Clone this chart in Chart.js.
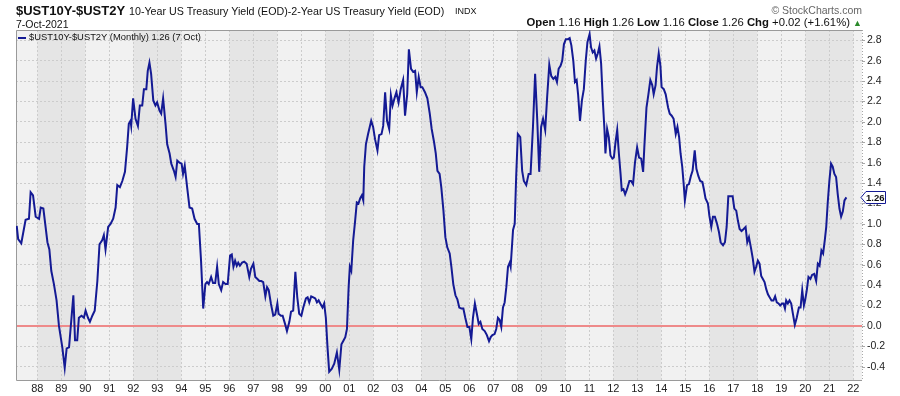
<!DOCTYPE html>
<html lang="en">
<head>
    <meta charset="UTF-8">
    <title>$UST10Y-$UST2Y</title>
    <script src="https://cdn.jsdelivr.net/npm/chart.js"></script>
    <style>
        body {
            margin: 0;
            background: #fff;
            font-family: "Liberation Sans", Arial, sans-serif;
            color: #111;
        }
        #wrap {
            position: relative;
            width: 900px;
            height: 396px;
        }
        .txt {
            position: absolute;
            white-space: nowrap;
            z-index: 2;
        }
        #sym { left: 16px; top: 4px; font-size: 13px; line-height: 13px; font-weight: bold; }
        #name { left: 129px; top: 6px; font-size: 10.7px; line-height: 10.7px; }
        #exch { left: 455px; top: 7px; font-size: 9px; line-height: 9px; }
        #date { left: 16px; top: 19px; font-size: 10.5px; line-height: 10.5px; }
        #copy { right: 38px; top: 5px; font-size: 10.5px; line-height: 10.5px; color: #666; }
        #ohlc { right: 38px; top: 17px; font-size: 11.3px; line-height: 11.3px; }
        #ohlc b { font-weight: bold; }
        #ohlc .up { color: #2a8a2a; font-size: 9px; }
        #legend { left: 18px; top: 32px; font-size: 9.4px; line-height: 10px; }
        #legend i {
            display: inline-block;
            width: 8px;
            height: 2px;
            background: #141a94;
            vertical-align: middle;
            margin-right: 3px;
        }
        canvas { position: absolute; left: 0; top: 0; }
    </style>
</head>
<body>
<div id="wrap">
    <div class="txt" id="sym">$UST10Y-$UST2Y</div>
    <div class="txt" id="name">10-Year US Treasury Yield (EOD)-2-Year US Treasury Yield (EOD)</div>
    <div class="txt" id="exch">INDX</div>
    <div class="txt" id="date">7-Oct-2021</div>
    <div class="txt" id="copy">&copy; StockCharts.com</div>
    <div class="txt" id="ohlc"><b>Open</b> 1.16 <b>High</b> 1.26 <b>Low</b> 1.16 <b>Close</b> 1.26 <b>Chg</b> +0.02 (+1.61%) <span class="up">&#9650;</span></div>
    <div class="txt" id="legend"><i></i>$UST10Y-$UST2Y (Monthly) 1.26 (7 Oct)</div>
    <canvas id="spreadChart"></canvas>
</div>

<script>
    // month positions as decimal years
    const dates = [
        1987.14, 1987.20, 1987.33, 1987.51, 1987.65, 1987.72, 1987.82, 1987.93,
        1988.07, 1988.14, 1988.25, 1988.42, 1988.50, 1988.58, 1988.69, 1988.80, 1988.90,
        1989.04, 1989.14, 1989.22, 1989.32, 1989.50, 1989.57, 1989.66, 1989.73, 1989.84, 1989.94,
        1990.01, 1990.11, 1990.19, 1990.29, 1990.39, 1990.50, 1990.59, 1990.70, 1990.77, 1990.84, 1990.95,
        1991.05, 1991.16, 1991.26, 1991.33, 1991.44, 1991.54, 1991.65, 1991.74, 1991.81, 1991.88, 1991.91, 1991.99,
        1992.09, 1992.19, 1992.27, 1992.37, 1992.44, 1992.54, 1992.60, 1992.67, 1992.74, 1992.83, 1992.92, 1992.99,
        1993.09, 1993.16, 1993.24, 1993.34, 1993.41, 1993.51, 1993.58, 1993.69, 1993.76, 1993.83, 1993.92,
        1994.01, 1994.07, 1994.14, 1994.24, 1994.34, 1994.45, 1994.55, 1994.66, 1994.73, 1994.82, 1994.91,
        1995.00, 1995.07, 1995.14, 1995.24, 1995.32, 1995.41, 1995.49, 1995.56, 1995.66, 1995.74, 1995.84, 1995.93,
        1996.03, 1996.10, 1996.17, 1996.24, 1996.31, 1996.37, 1996.44, 1996.53, 1996.62, 1996.72, 1996.83, 1996.90,
        1997.00, 1997.08, 1997.17, 1997.25, 1997.33, 1997.41, 1997.50, 1997.57, 1997.64, 1997.73, 1997.83, 1997.91,
        1998.00, 1998.05, 1998.15, 1998.22, 1998.32, 1998.40, 1998.50, 1998.57, 1998.66, 1998.75, 1998.83, 1998.91,
        1999.00, 1999.08, 1999.19, 1999.26, 1999.33, 1999.41, 1999.50, 1999.58, 1999.65, 1999.72, 1999.81, 1999.88, 1999.95,
        2000.02, 2000.09, 2000.16, 2000.27, 2000.37, 2000.48, 2000.58, 2000.67, 2000.74, 2000.83, 2000.90, 2000.97,
        2001.02, 2001.08, 2001.16, 2001.24, 2001.31, 2001.38, 2001.45, 2001.52, 2001.58, 2001.62, 2001.69, 2001.78, 2001.91, 2001.99,
        2002.07, 2002.17, 2002.24, 2002.34, 2002.41, 2002.49, 2002.57, 2002.66, 2002.73, 2002.80, 2002.88, 2002.96,
        2003.05, 2003.14, 2003.24, 2003.32, 2003.41, 2003.48, 2003.57, 2003.66, 2003.74, 2003.81, 2003.89, 2003.97,
        2004.04, 2004.15, 2004.25, 2004.35, 2004.43, 2004.53, 2004.60, 2004.67, 2004.76, 2004.83, 2004.92,
        2005.00, 2005.08, 2005.18, 2005.25, 2005.33, 2005.42, 2005.50, 2005.58, 2005.67, 2005.75, 2005.83, 2005.92,
        2006.00, 2006.08, 2006.15, 2006.23, 2006.32, 2006.39, 2006.46, 2006.54, 2006.64, 2006.73, 2006.82, 2006.89, 2006.96,
        2007.05, 2007.12, 2007.19, 2007.26, 2007.33, 2007.40, 2007.47, 2007.54, 2007.61, 2007.68, 2007.72, 2007.82, 2007.89, 2007.95,
        2008.02, 2008.12, 2008.20, 2008.27, 2008.37, 2008.47, 2008.55, 2008.65, 2008.74, 2008.83, 2008.91, 2008.99,
        2009.07, 2009.16, 2009.24, 2009.33, 2009.41, 2009.50, 2009.58, 2009.65, 2009.72, 2009.80, 2009.87, 2009.94,
        2010.02, 2010.11, 2010.18, 2010.25, 2010.33, 2010.40, 2010.47, 2010.53, 2010.61, 2010.69, 2010.77, 2010.85, 2010.92,
        2011.01, 2011.07, 2011.14, 2011.21, 2011.28, 2011.35, 2011.42, 2011.49, 2011.56, 2011.63, 2011.67, 2011.74, 2011.81, 2011.88, 2011.96,
        2012.02, 2012.09, 2012.16, 2012.23, 2012.30, 2012.35, 2012.42, 2012.49, 2012.57, 2012.67, 2012.74, 2012.82, 2012.90, 2012.99,
        2013.07, 2013.16, 2013.24, 2013.29, 2013.38, 2013.46, 2013.54, 2013.62, 2013.68, 2013.76, 2013.82, 2013.89, 2013.96,
        2014.01, 2014.10, 2014.18, 2014.28, 2014.35, 2014.43, 2014.51, 2014.60, 2014.67, 2014.74, 2014.80, 2014.87, 2014.93, 2014.98,
        2015.07, 2015.15, 2015.23, 2015.30, 2015.39, 2015.46, 2015.54, 2015.62, 2015.71, 2015.78, 2015.84, 2015.94,
        2016.00, 2016.08, 2016.15, 2016.23, 2016.32, 2016.40, 2016.47, 2016.57, 2016.65, 2016.72, 2016.79, 2016.87, 2016.97,
        2017.04, 2017.12, 2017.19, 2017.26, 2017.34, 2017.43, 2017.51, 2017.58, 2017.65, 2017.73, 2017.81, 2017.88, 2017.95,
        2018.02, 2018.09, 2018.16, 2018.23, 2018.30, 2018.37, 2018.44, 2018.51, 2018.59, 2018.67, 2018.74, 2018.81, 2018.88, 2018.95,
        2019.03, 2019.09, 2019.15, 2019.20, 2019.27, 2019.34, 2019.41, 2019.48, 2019.56, 2019.64, 2019.73, 2019.80, 2019.87, 2019.94, 2019.99,
        2020.06, 2020.13, 2020.21, 2020.28, 2020.37, 2020.45, 2020.52, 2020.59, 2020.67, 2020.74, 2020.81, 2020.87, 2020.93,
        2021.00, 2021.07, 2021.14, 2021.21, 2021.28, 2021.35, 2021.42, 2021.49, 2021.56, 2021.63, 2021.71
    ];

    // 10y - 2y spread, one line per year, same layout as dates
    const spread = [
        0.98, 0.85, 0.81, 1.04, 1.05, 1.31, 1.28, 1.07,
        1.05, 1.16, 1.15, 0.82, 0.75, 0.54, 0.41, 0.25, 0.00,
        -0.21, -0.41, -0.22, -0.21, 0.30, -0.14, -0.14, 0.08, 0.10, 0.08,
        0.15, 0.08, 0.04, 0.10, 0.15, 0.44, 0.80, 0.84, 0.89, 0.75, 0.97,
        1.00, 1.05, 1.16, 1.38, 1.36, 1.42, 1.51, 1.75, 1.98, 2.01, 1.96, 2.23,
        2.03, 1.96, 2.16, 2.16, 2.32, 2.32, 2.50, 2.58, 2.47, 2.21, 2.16, 2.19,
        2.11, 2.08, 2.23, 1.98, 1.78, 1.69, 1.59, 1.52, 1.46, 1.62, 1.60,
        1.59, 1.49, 1.57, 1.36, 1.16, 1.15, 1.05, 1.00, 1.00, 0.64, 0.17,
        0.41, 0.43, 0.41, 0.48, 0.42, 0.42, 0.58, 0.41, 0.35, 0.43, 0.41, 0.41,
        0.69, 0.70, 0.58, 0.64, 0.59, 0.62, 0.59, 0.62, 0.63, 0.61, 0.48, 0.56,
        0.61, 0.48, 0.46, 0.44, 0.44, 0.43, 0.29, 0.38, 0.35, 0.22, 0.10, 0.11,
        0.22, 0.12, 0.10, 0.10, 0.02, -0.05, 0.04, 0.14, 0.15, 0.53, 0.28, 0.12,
        0.10, 0.18, 0.27, 0.28, 0.23, 0.29, 0.28, 0.27, 0.23, 0.25, 0.21, 0.18, 0.22,
        0.08, -0.21, -0.45, -0.42, -0.37, -0.26, -0.43, -0.18, -0.15, -0.11, -0.03, 0.38,
        0.58, 0.54, 0.84, 1.03, 1.21, 1.20, 1.25, 1.28, 1.23, 1.56, 1.78, 1.88, 2.01, 1.95,
        1.83, 1.72, 1.87, 1.88, 1.96, 2.29, 2.01, 1.93, 2.26, 2.16, 2.23, 2.29,
        2.19, 2.32, 2.41, 2.06, 2.27, 2.71, 2.52, 2.49, 2.50, 2.29, 2.44, 2.34,
        2.34, 2.29, 2.23, 2.08, 1.93, 1.80, 1.69, 1.52, 1.49, 1.36, 1.13,
        0.87, 0.77, 0.71, 0.58, 0.41, 0.30, 0.26, 0.18, 0.17, 0.17, 0.08, -0.01,
        -0.01, -0.13, 0.08, 0.22, 0.11, 0.02, 0.04, -0.03, -0.05, -0.09, -0.15, -0.11, -0.09,
        -0.08, -0.03, 0.08, 0.06, -0.01, 0.18, 0.23, 0.38, 0.58, 0.62, 0.58, 0.94, 1.00, 1.46,
        1.88, 1.85, 1.52, 1.42, 1.38, 1.49, 1.49, 1.95, 2.47, 2.01, 1.51, 1.95,
        2.03, 1.92, 2.24, 2.56, 2.45, 2.42, 2.44, 2.39, 2.52, 2.55, 2.60, 2.76,
        2.81, 2.81, 2.82, 2.75, 2.60, 2.39, 2.41, 2.27, 2.01, 2.21, 2.32, 2.60, 2.78,
        2.86, 2.73, 2.68, 2.70, 2.62, 2.67, 2.74, 2.57, 2.21, 1.92, 1.69, 1.93, 1.85, 1.67, 1.64,
        1.65, 1.80, 1.92, 1.69, 1.49, 1.33, 1.34, 1.29, 1.34, 1.42, 1.42, 1.39, 1.60, 1.75,
        1.65, 1.64, 1.51, 1.75, 2.14, 2.27, 2.41, 2.36, 2.27, 2.36, 2.54, 2.67, 2.55,
        2.34, 2.32, 2.27, 2.14, 2.08, 2.06, 2.03, 1.88, 1.95, 1.85, 1.69, 1.56, 1.39, 1.23,
        1.38, 1.39, 1.47, 1.52, 1.72, 1.54, 1.47, 1.42, 1.41, 1.33, 1.25, 1.20,
        1.08, 0.97, 1.07, 1.07, 1.00, 0.92, 0.82, 0.79, 0.82, 0.97, 1.27, 1.27, 1.27,
        1.15, 1.13, 1.03, 0.95, 0.93, 0.95, 0.97, 0.82, 0.87, 0.77, 0.66, 0.53, 0.58,
        0.64, 0.61, 0.49, 0.46, 0.43, 0.36, 0.31, 0.28, 0.25, 0.25, 0.29, 0.23, 0.22, 0.20,
        0.22, 0.22, 0.17, 0.25, 0.22, 0.25, 0.22, 0.12, 0.01, 0.08, 0.18, 0.18, 0.35, 0.20, 0.25,
        0.35, 0.48, 0.46, 0.50, 0.51, 0.44, 0.61, 0.59, 0.74, 0.71, 0.84, 0.97, 1.20,
        1.42, 1.59, 1.56, 1.49, 1.46, 1.29, 1.15, 1.07, 1.12, 1.23, 1.26
    ];

    const tickYears = [1988, 1989, 1990, 1991, 1992, 1993, 1994, 1995, 1996, 1997, 1998, 1999, 2000, 2001,
        2002, 2003, 2004, 2005, 2006, 2007, 2008, 2009, 2010, 2011, 2012, 2013, 2014, 2015, 2016, 2017,
        2018, 2019, 2020, 2021, 2022];
    const tickLabels = ['88', '89', '90', '91', '92', '93', '94', '95', '96', '97', '98', '99', '00', '01',
        '02', '03', '04', '05', '06', '07', '08', '09', '10', '11', '12', '13', '14', '15', '16', '17',
        '18', '19', '20', '21', '22'];
    const yTicks = [-0.4, -0.2, 0.0, 0.2, 0.4, 0.6, 0.8, 1.0, 1.2, 1.4, 1.6, 1.8, 2.0, 2.2, 2.4, 2.6, 2.8];
    const lastValue = 1.26;

    const LINE = '#141a94';

    // plot background with alternating two-year bands
    const bandsPlugin = {
        id: 'bands',
        beforeDraw(chart) {
            const { ctx, chartArea: a, scales: { x } } = chart;
            ctx.save();
            ctx.fillStyle = '#f1f1f1';
            ctx.fillRect(a.left, a.top, a.right - a.left, a.bottom - a.top);
            ctx.fillStyle = '#e5e5e5';
            for (let i = 0; i + 2 < tickYears.length; i += 4) {
                const x1 = Math.max(a.left, x.getPixelForValue(tickYears[i]));
                const x2 = Math.min(a.right, x.getPixelForValue(tickYears[i + 2]));
                ctx.fillRect(x1, a.top, x2 - x1, a.bottom - a.top);
            }
            ctx.restore();
        }
    };

    // zero line and plot frame
    const framePlugin = {
        id: 'frame',
        beforeDatasetsDraw(chart) {
            const { ctx, chartArea: a, scales: { y } } = chart;
            ctx.save();
            const y0 = Math.round(y.getPixelForValue(0));
            ctx.strokeStyle = '#ee8a8a';
            ctx.lineWidth = 2;
            ctx.beginPath();
            ctx.moveTo(a.left, y0);
            ctx.lineTo(a.right, y0);
            ctx.stroke();

            ctx.strokeStyle = '#9a9a9a';
            ctx.lineWidth = 1;
            ctx.beginPath();
            ctx.moveTo(a.right, a.top + 0.5);
            ctx.lineTo(a.left + 0.5, a.top + 0.5);
            ctx.lineTo(a.left + 0.5, a.bottom + 0.5);
            ctx.lineTo(a.right, a.bottom + 0.5);
            ctx.stroke();

            ctx.strokeStyle = '#a8a8a8';
            ctx.setLineDash([1, 2]);
            ctx.beginPath();
            ctx.moveTo(a.right + 0.5, a.top);
            ctx.lineTo(a.right + 0.5, a.bottom);
            ctx.stroke();
            ctx.setLineDash([]);
            yTicks.forEach(v => {
                const py = Math.round(y.getPixelForValue(v)) + 0.5;
                ctx.beginPath();
                ctx.moveTo(a.right, py);
                ctx.lineTo(a.right + 3, py);
                ctx.stroke();
            });
            ctx.restore();
        }
    };

    // last value tag on the right axis
    const tagPlugin = {
        id: 'tag',
        afterDraw(chart) {
            const { ctx, chartArea: a, scales: { y } } = chart;
            const py = Math.round(y.getPixelForValue(lastValue)) + 0.5;
            const x0 = a.right - 1, x1 = a.right + 4, x2 = a.right + 23, h = 6;
            ctx.save();
            ctx.beginPath();
            ctx.moveTo(x0, py);
            ctx.lineTo(x1, py - h);
            ctx.lineTo(x2 + 0.5, py - h);
            ctx.lineTo(x2 + 0.5, py + h);
            ctx.lineTo(x1, py + h);
            ctx.closePath();
            ctx.fillStyle = '#fff';
            ctx.fill();
            ctx.strokeStyle = LINE;
            ctx.lineWidth = 1;
            ctx.stroke();
            ctx.fillStyle = '#111';
            ctx.font = 'bold 9.5px "Liberation Sans", Arial, sans-serif';
            ctx.textAlign = 'left';
            ctx.textBaseline = 'middle';
            ctx.fillText(lastValue.toFixed(2), x1, py + 0.5);
            ctx.restore();
        }
    };

    const gridStyle = { color: '#cccccc', lineWidth: 1, drawTicks: false };
    const tickFont = { family: '"Liberation Sans", Arial, sans-serif', size: 11 };

    new Chart(document.getElementById('spreadChart'), {
        type: 'line',
        data: {
            datasets: [{
                label: '$UST10Y-$UST2Y (Monthly)',
                data: dates.map((d, i) => ({ x: d, y: spread[i] })),
                borderColor: LINE,
                borderWidth: 2,
                pointRadius: 0,
                tension: 0,
                fill: false
            }]
        },
        options: {
            responsive: true,
            maintainAspectRatio: false,
            animation: false,
            layout: { padding: { left: 16, top: 30, right: 0, bottom: 0 } },
            plugins: { legend: { display: false }, tooltip: { enabled: false } },
            scales: {
                x: {
                    type: 'linear',
                    bounds: 'data',
                    min: 1987.11,
                    max: 2022.36,
                    afterBuildTicks: s => { s.ticks = tickYears.map(v => ({ value: v })); },
                    afterFit: s => { s.height = 16; },
                    ticks: {
                        autoSkip: false,
                        maxRotation: 0,
                        padding: 2,
                        color: '#222',
                        font: tickFont,
                        callback: (v, i) => tickLabels[i]
                    },
                    grid: gridStyle,
                    border: { display: false, dash: [2, 2] }
                },
                y: {
                    position: 'right',
                    bounds: 'data',
                    min: -0.53,
                    max: 2.9,
                    afterBuildTicks: s => { s.ticks = yTicks.map(v => ({ value: v })); },
                    afterFit: s => { s.width = 38; },
                    ticks: {
                        padding: 5,
                        color: '#222',
                        font: { family: tickFont.family, size: 10.5 },
                        callback: v => v.toFixed(1)
                    },
                    grid: gridStyle,
                    border: { display: false, dash: [2, 2] }
                }
            }
        },
        plugins: [bandsPlugin, framePlugin, tagPlugin]
    });
</script>
</body>
</html>
